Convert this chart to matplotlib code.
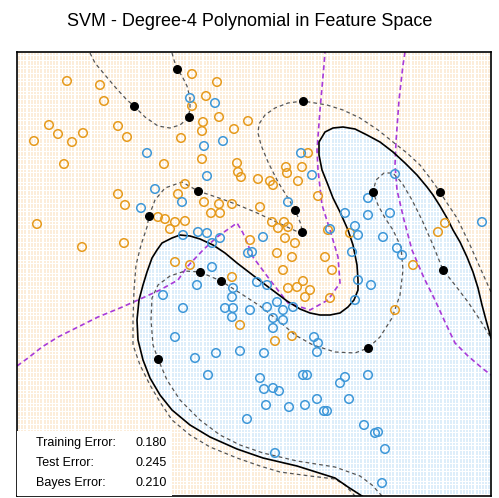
import numpy as np
import matplotlib.pyplot as plt
from matplotlib.path import Path

plt.rcParams['font.family'] = ['Liberation Sans', 'DejaVu Sans']

# coordinates are in the feature-space units of the panel (x right, y down)
orange_x = [67, 100, 104, 49, 58, 34, 72, 83, 118, 127, 64, 164, 118, 37, 82, 124, 125,
            192, 217, 206, 192, 219, 203, 202, 248, 234, 181, 202, 237, 238, 241,
            258, 270, 273, 286, 287, 302, 298, 308, 318, 185, 178,
            204, 219, 232, 211, 220, 260, 158, 165, 175, 185, 170,
            272, 284, 278, 288, 285, 295, 277, 292, 325, 328, 332, 283, 303, 297, 288,
            310, 305, 330, 175, 190, 232, 250, 240, 275, 292,
            350, 445, 438, 413, 395]
orange_y = [81, 85, 101, 125, 134, 141, 142, 133, 126, 137, 164, 164, 194, 224, 247, 243, 205,
            74, 82, 96, 106, 117, 122, 131, 121, 129, 138, 159, 163, 172, 177,
            179, 181, 185, 167, 173, 167, 181, 153, 196, 184, 194,
            202, 204, 204, 213, 213, 207, 217, 219, 222, 221, 229,
            222, 222, 228, 227, 238, 243, 253, 257, 257, 230, 270, 270, 281, 287, 288,
            290, 297, 298, 262, 265, 277, 240, 325, 341, 336,
            233, 223, 232, 265, 310]

blue_x = [147, 155, 141, 190, 215, 204, 223, 207, 301, 312, 288, 182, 163,
          183, 198, 207, 220, 212, 263, 252, 248, 212, 197, 233, 257, 267, 232, 225, 233,
          232, 250, 267, 277, 283, 293, 183, 273, 283, 175, 314, 273,
          318, 317, 195, 216, 240, 264, 208, 260, 303, 307, 264, 273, 279, 266, 289, 305,
          317, 324, 247, 275,
          368, 345, 368, 390, 330, 355, 358, 383, 482, 352, 397, 402, 358, 371, 355, 395,
          345, 340, 368, 349, 327, 364, 375, 378, 385, 382]
blue_y = [153, 189, 208, 98, 103, 146, 141, 176, 153, 175, 202, 202, 295,
          235, 232, 233, 238, 243, 237, 252, 253, 267, 285, 288, 282, 285, 297, 308, 308,
          317, 310, 307, 302, 310, 307, 308, 318, 320, 337, 337, 328,
          343, 352, 358, 353, 351, 353, 375, 378, 375, 375, 389, 388, 391, 405, 407, 405,
          399, 411, 419, 453,
          198, 213, 215, 213, 229, 226, 235, 237, 222, 252, 248, 255, 280, 285, 300, 174,
          377, 383, 375, 399, 411, 425, 433, 432, 449, 483]

sv_x = [177, 134, 189, 303, 198, 149, 295, 302, 373, 440, 443, 200, 221, 158, 368]
sv_y = [69, 106, 117, 101, 191, 216, 210, 232, 192, 192, 270, 272, 281, 359, 348]

# SVM decision boundary f(x) = 0
bnd_x = [362, 348, 335, 297, 263, 237, 210, 190, 172, 160, 150, 143, 138, 137, 139, 143,
         147, 152, 157, 162, 172, 180, 190, 200, 213, 225, 237, 250, 263, 275, 287, 300,
         310, 320, 330, 340, 348, 354, 358, 358, 357, 353, 348, 340, 333, 328, 322, 319,
         319, 325, 333, 343, 355, 367, 380, 393, 405, 417, 427, 433, 440, 447, 453, 460,
         467, 473, 478, 482, 486, 491]
bnd_y = [496, 487, 478, 466, 458, 449, 437, 425, 410, 395, 378, 360, 340, 320, 300, 285,
         272, 258, 250, 243, 238, 235, 236, 239, 245, 253, 263, 273, 283, 292, 301, 309,
         313, 315, 315, 313, 307, 300, 290, 280, 265, 245, 230, 212, 198, 185, 170, 155,
         142, 132, 128, 127, 129, 135, 142, 152, 163, 175, 187, 195, 206, 218, 230, 242,
         257, 272, 288, 305, 320, 338]

# margin f(x) = +1: top-left pocket
m1_x = [90, 95, 105, 116, 126, 134, 145, 158, 170, 180, 187, 190, 190, 187, 182, 177, 174, 172]
m1_y = [53, 63, 75, 88, 99, 106, 117, 126, 128, 125, 119, 110, 98, 86, 76, 69, 60, 53]
# margin f(x) = +1: from the right edge, over the loop, down the middle and out the bottom
m2_x = [491, 482, 470, 457, 447, 440, 430, 420, 407, 393, 378, 360, 343, 327, 303, 288,
        275, 265, 259, 258, 261, 268, 278, 288, 295, 300, 303, 298, 285, 270, 255, 238,
        222, 210, 198, 182, 165, 155, 149, 147, 141, 136, 134, 133, 133, 140, 150, 160,
        172, 190, 210, 237, 260, 280, 310, 335, 345, 355]
m2_y = [292, 272, 245, 218, 203, 192, 178, 165, 153, 142, 130, 118, 110, 105, 101, 103,
        108, 115, 124, 133, 145, 162, 182, 198, 210, 222, 233, 232, 226, 219, 212, 205,
        199, 195, 191, 182, 188, 200, 216, 227, 245, 265, 290, 320, 345, 365, 385, 402,
        420, 435, 447, 458, 466, 472, 476, 479, 485, 496]
# margin f(x) = -1 on the blue side
m4_x = [382, 372, 360, 335, 297, 263, 240, 220, 200, 180, 167, 158, 153, 151, 152, 158,
        170, 185, 200, 221, 240, 260, 280, 295, 313, 335, 355, 368, 380, 392, 400, 403,
        401, 393, 385, 378, 373, 376, 384, 393, 402, 412, 422, 433, 443, 455, 468, 480, 491]
m4_y = [496, 485, 476, 467, 461, 453, 445, 435, 420, 400, 380, 359, 345, 320, 298, 285,
        276, 271, 272, 281, 293, 306, 322, 335, 345, 352, 353, 348, 337, 318, 295, 270,
        247, 230, 218, 205, 192, 180, 173, 173, 183, 200, 220, 245, 270, 285, 302, 320, 338]

# Bayes decision boundary
bayes1_x = [17, 28, 42, 58, 80, 98, 120, 138, 160, 178, 187, 203, 217, 237, 243, 253, 270,
            288, 310, 328, 340, 338, 330, 322, 318, 317, 320, 324, 325]
bayes1_y = [366, 358, 347, 337, 326, 317, 308, 300, 290, 280, 267, 250, 237, 223, 233, 257,
            280, 303, 310, 300, 283, 257, 230, 205, 170, 150, 110, 65, 52]
bayes2_x = [405, 403, 399, 396, 395, 397, 404, 412, 424, 435, 445, 455, 468, 482, 491]
bayes2_y = [52, 65, 100, 142, 165, 190, 220, 250, 278, 300, 322, 343, 356, 368, 375]

XMIN, XMAX, YMIN, YMAX = 17, 491, 52, 496

fig = plt.figure(figsize=(4.99, 4.98), dpi=100)
ax = fig.add_axes([XMIN / 499, 1 - YMAX / 498, (XMAX - XMIN) / 499, (YMAX - YMIN) / 498])

# background grid coloured by predicted class
gx, gy = np.meshgrid(np.arange(XMIN + 2, XMAX, 3.2), np.arange(YMIN + 2, YMAX, 2.6))
gx, gy = gx.ravel(), gy.ravel()
region = list(zip(bnd_x, bnd_y)) + [(XMAX + 5, 338), (XMAX + 5, YMAX + 5), (362, YMAX + 5)]
is_blue = Path(region).contains_points(np.column_stack([gx, gy]))
ax.scatter(gx[~is_blue], gy[~is_blue], s=0.9, c='#f0a848', alpha=0.2, linewidths=0, marker='s')
ax.scatter(gx[is_blue], gy[is_blue], s=0.9, c='#5aaee6', alpha=0.2, linewidths=0, marker='s')

ax.plot(bayes1_x, bayes1_y, color='#a83ad8', lw=1.2, ls=(0, (3, 2)))
ax.plot(bayes2_x, bayes2_y, color='#a83ad8', lw=1.2, ls=(0, (3, 2)))
for mx, my in [(m1_x, m1_y), (m2_x, m2_y), (m4_x, m4_y)]:
    ax.plot(mx, my, color='#555555', lw=0.9, ls=(0, (3, 2.5)))
ax.plot(bnd_x, bnd_y, color='black', lw=1.2)

ax.scatter(orange_x, orange_y, s=38, facecolors='none', edgecolors='#e69a1c', linewidths=1.1, zorder=3)
ax.scatter(blue_x, blue_y, s=38, facecolors='none', edgecolors='#3d97d8', linewidths=1.1, zorder=3)
ax.scatter(sv_x, sv_y, s=30, c='black', zorder=4)

# error summary in the lower-left corner
ax.add_patch(plt.Rectangle((XMIN, 431), 155, YMAX - 431, facecolor='white', edgecolor='none', zorder=5))
labels = ['Training Error:', 'Test Error:', 'Bayes Error:']
values = ['0.180', '0.245', '0.210']
for i, (lab, val) in enumerate(zip(labels, values)):
    ax.text(36, 443 + 20 * i, lab, fontsize=9, va='center', ha='left', zorder=6)
    ax.text(167, 443 + 20 * i, val, fontsize=9, va='center', ha='right', zorder=6)

ax.set_xlim(XMIN, XMAX)
ax.set_ylim(YMAX, YMIN)
ax.set_xticks([])
ax.set_yticks([])
for sp in ax.spines.values():
    sp.set_linewidth(1.2)

fig.text(0.5, 1 - 22 / 498, 'SVM - Degree-4 Polynomial in Feature Space', ha='center', va='center',
         fontsize=13)

fig.savefig('out.png', dpi=100)
